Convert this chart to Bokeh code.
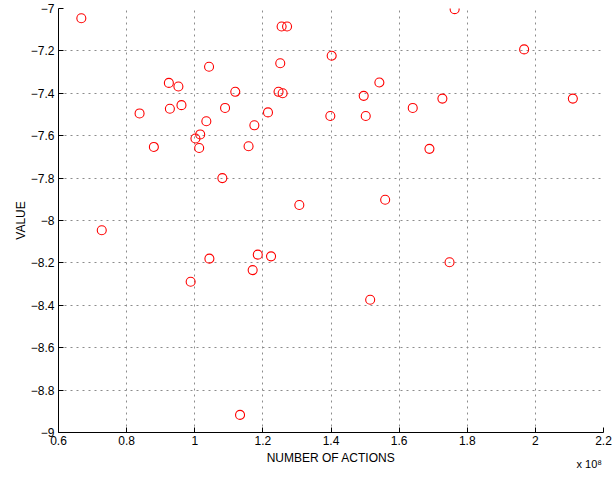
from bokeh.plotting import figure
from bokeh.models import FixedTicker, CustomJSTickFormatter, Label, ColumnDataSource
from bokeh.embed import file_html
from bokeh.resources import INLINE

# Number of actions (in units of 1e8) and value
actions_e8 = [0.667, 0.727, 0.838, 0.880, 0.924, 0.927, 0.952, 0.961, 1.002, 1.016,
              1.013, 1.034, 1.042, 1.081, 1.089, 1.119, 1.158, 1.175, 1.215, 1.251,
              1.246, 1.258, 1.255, 1.271, 1.307, 1.402, 1.398, 1.496, 1.502, 1.542,
              1.559, 1.640, 1.689, 1.727, 1.763, 1.967, 2.110, 0.988, 1.043, 1.170,
              1.185, 1.224, 1.133, 1.748, 1.515]
values = [-7.046, -8.046, -7.495, -7.653, -7.351, -7.473, -7.368, -7.456, -7.613, -7.594,
          -7.658, -7.532, -7.275, -7.800, -7.469, -7.393, -7.650, -7.551, -7.490, -7.258,
          -7.393, -7.400, -7.085, -7.085, -7.927, -7.223, -7.507, -7.412, -7.507, -7.349,
          -7.902, -7.469, -7.662, -7.425, -7.003, -7.193, -7.425, -8.289, -8.180, -8.234,
          -8.161, -8.169, -8.917, -8.197, -8.374]

x_ticks = [0.6, 0.8, 1.0, 1.2, 1.4, 1.6, 1.8, 2.0, 2.2]
y_ticks = [-9.0, -8.8, -8.6, -8.4, -8.2, -8.0, -7.8, -7.6, -7.4, -7.2, -7.0]

x_label = "NUMBER OF ACTIONS"
y_label = "VALUE"
x_multiplier = "x 10\u2078"
FONT = "Liberation Sans"

p = figure(width=613, height=479, output_backend="svg", toolbar_location=None,
           x_range=(0.6, 2.2), y_range=(-9, -7),
           min_border_left=58, min_border_right=10, min_border_top=8, min_border_bottom=40)
p.outline_line_color = None
p.background_fill_color = "white"
p.border_fill_color = "white"

src = ColumnDataSource(dict(x=actions_e8, y=values))
p.scatter("x", "y", source=src, marker="circle", size=9, fill_color=None,
          line_color="#ff0000", line_width=1.1)

for ax in (p.xaxis[0], p.yaxis[0]):
    ax.major_tick_in = 5
    ax.major_tick_out = 0
    ax.minor_tick_line_color = None
    ax.axis_line_color = "black"
    ax.major_tick_line_color = "black"
    ax.major_label_text_font = FONT
    ax.major_label_text_font_size = "12px"
    ax.major_label_text_color = "black"
    ax.axis_label_text_font = FONT
    ax.axis_label_text_font_size = "12px"
    ax.axis_label_text_font_style = "normal"
    ax.axis_label_text_color = "black"

p.xaxis.ticker = FixedTicker(ticks=x_ticks)
p.yaxis.ticker = FixedTicker(ticks=y_ticks)
p.xaxis.formatter = CustomJSTickFormatter(code="return (Math.round(tick*10)/10).toString();")
p.yaxis.formatter = CustomJSTickFormatter(code="return (Math.round(tick*10)/10).toString().replace('-', '\\u2212');")
p.xaxis.axis_label = x_label
p.yaxis.axis_label = y_label
p.xaxis.major_label_standoff = 3
p.yaxis.major_label_standoff = 4
p.xaxis.axis_label_standoff = 3
p.yaxis.axis_label_standoff = 0

for g in (p.xgrid[0], p.ygrid[0]):
    g.grid_line_color = "#8c8c8c"
    g.grid_line_dash = "2 4"
    g.grid_line_width = 1
p.xgrid.ticker = FixedTicker(ticks=x_ticks)
p.ygrid.ticker = FixedTicker(ticks=y_ticks)

# multiplier text placed in the bottom side panel (not clipped to the frame)
p.add_layout(Label(x=518, y=16, x_units="screen", y_units="screen", text=x_multiplier,
                   text_font=FONT, text_font_size="11px",
                   text_baseline="middle", text_align="left", text_color="black"), "below")

open("out.html", "w").write(file_html(p, INLINE))
